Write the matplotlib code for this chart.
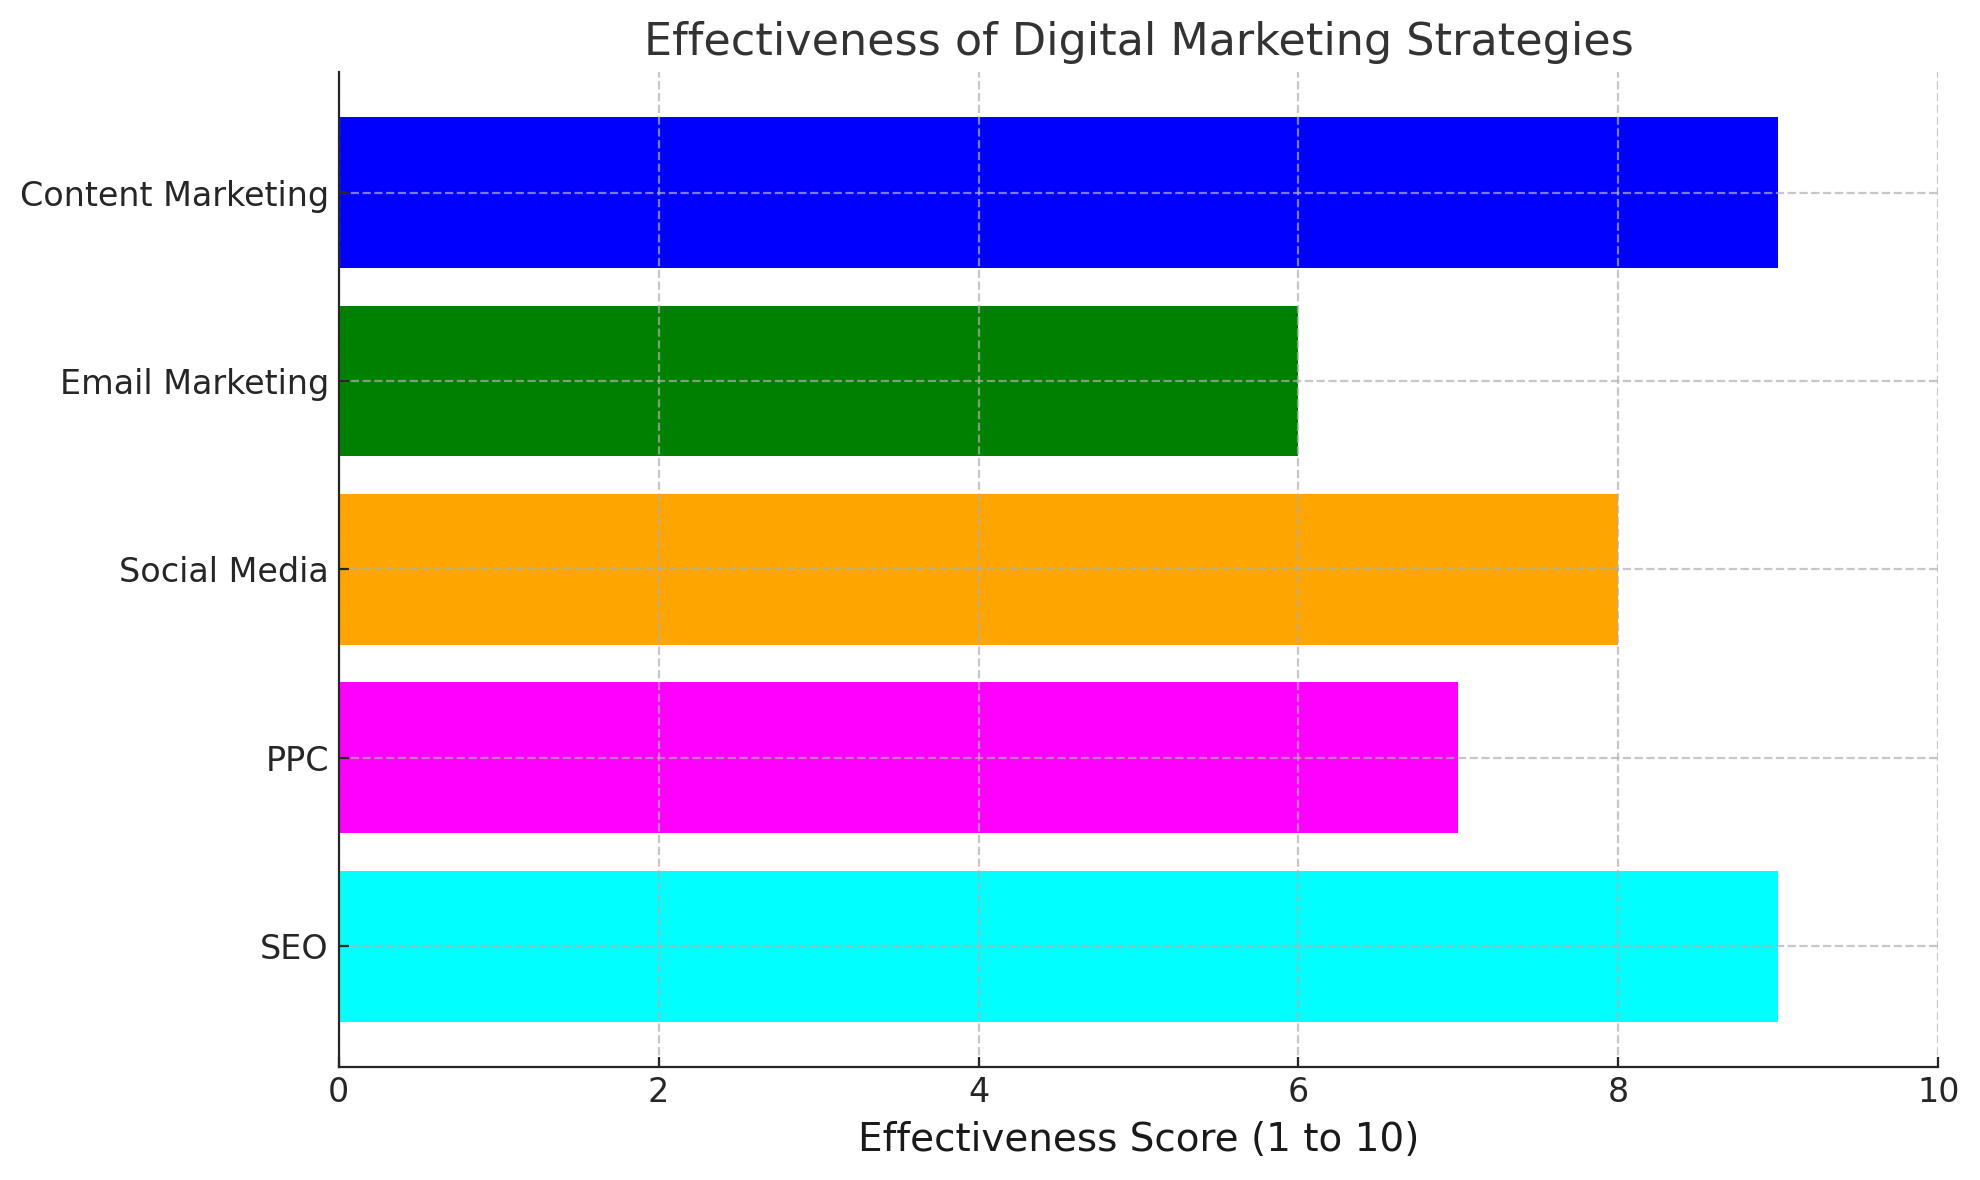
import matplotlib.pyplot as plt

strategies = ['SEO', 'PPC', 'Social Media', 'Email Marketing', 'Content Marketing']
scores = [9, 7, 8, 6, 9]
bar_colors = ['cyan', 'magenta', 'orange', 'green', 'blue']

fig, ax = plt.subplots(figsize=(9.9, 5.9), dpi=200)
ax.barh(strategies, scores, color=bar_colors)
ax.set_xlim(0, 10)
ax.set_xlabel('Effectiveness Score (1 to 10)', fontsize=14, color='#1a1a1a')
ax.set_title('Effectiveness of Digital Marketing Strategies', fontsize=16, color='#333333')
ax.tick_params(labelsize=12, colors='#262626', direction='in')
ax.grid(True, linestyle='--', color='#b0b0b0', alpha=0.7)
ax.spines['top'].set_visible(False)
ax.spines['right'].set_visible(False)
for s in ['left', 'bottom']:
    ax.spines[s].set_color('#262626')

plt.subplots_adjust(left=0.171, right=0.979, top=0.939, bottom=0.096)
plt.savefig('out.png', facecolor='w')
